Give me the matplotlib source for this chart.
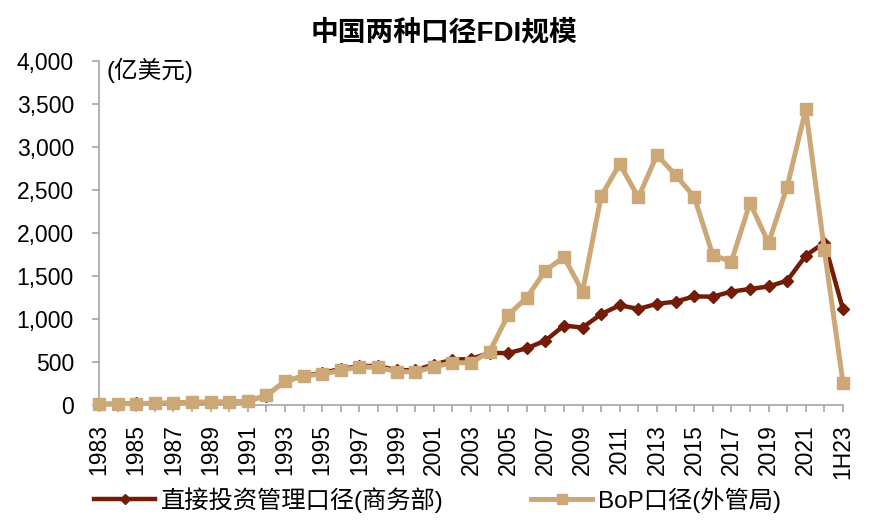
import matplotlib
matplotlib.use("Agg")
import matplotlib.pyplot as plt
from matplotlib.ticker import FuncFormatter
import numpy as np

plt.rcParams['font.family'] = ['Liberation Sans', 'Noto Sans CJK SC', 'DejaVu Sans']

# categories
years = [str(y) for y in range(1983, 2023)] + ['1H23']

# 直接投资管理口径(商务部), 亿美元
mofcom = [9, 14, 20, 22, 23, 32, 34, 35, 44, 110,
          275, 338, 375, 417, 453, 455, 403, 407, 469, 527,
          535, 606, 603, 660, 748, 924, 900, 1057, 1160, 1117,
          1176, 1202, 1262, 1260, 1318, 1349, 1378, 1446, 1736, 1889,
          1113]

# BoP口径(外管局), 亿美元
bop = [9, 13, 17, 19, 23, 32, 34, 35, 44, 111,
       275, 338, 358, 402, 442, 438, 388, 384, 442, 493,
       490, 620, 1047, 1248, 1562, 1720, 1318, 2430, 2802, 2415,
       2907, 2674, 2422, 1744, 1667, 2349, 1884, 2539, 3438, 1802,
       261]

dark_red = '#731C07'
tan = '#CDA877'
grey = '#A6A6A6'

fig = plt.figure(figsize=(8.72, 5.25), dpi=100)
ax = fig.add_axes([0.1135, 0.2286, 0.8532, 0.6552])

x = np.arange(len(years))
ax.plot(x, mofcom, color=dark_red, lw=3.2, marker='D', markersize=6.5,
        label='直接投资管理口径(商务部)', zorder=3, clip_on=False)
ax.plot(x, bop, color=tan, lw=3.6, marker='s', markersize=9,
        label='BoP口径(外管局)', zorder=4, clip_on=False)

ax.set_xlim(0, len(years) - 1)
ax.set_ylim(0, 4000)
ax.set_yticks(np.arange(0, 4001, 500))
ax.yaxis.set_major_formatter(FuncFormatter(lambda v, p: f'{int(v):,}'))

ax.set_xticks(x)
ax.set_xticklabels([lab if i % 2 == 0 else '' for i, lab in enumerate(years)],
                   rotation=90)

for s in ['top', 'right']:
    ax.spines[s].set_visible(False)
for s in ['left', 'bottom']:
    ax.spines[s].set_color(grey)
    ax.spines[s].set_linewidth(1.2)

ax.tick_params(axis='y', colors=grey, labelcolor='black', labelsize=16.5,
               length=5, width=1.2, pad=13)
ax.tick_params(axis='x', colors=grey, labelcolor='black', labelsize=16.5,
               length=5, width=1.2, pad=9)

ax.text(0.01, 1.01, '(亿美元)', transform=ax.transAxes, fontsize=17,
        ha='left', va='top')

fig.text(0.509, 0.937, '中国两种口径FDI规模', fontsize=20, fontweight='bold',
         ha='center', va='center')

fig.legend(loc='center', bbox_to_anchor=(0.502, 0.048), ncol=2, frameon=False,
           fontsize=17.5, handlelength=2.5, columnspacing=3.6,
           handletextpad=0.25, markerscale=0.8)

fig.savefig('out.png', dpi=100)
